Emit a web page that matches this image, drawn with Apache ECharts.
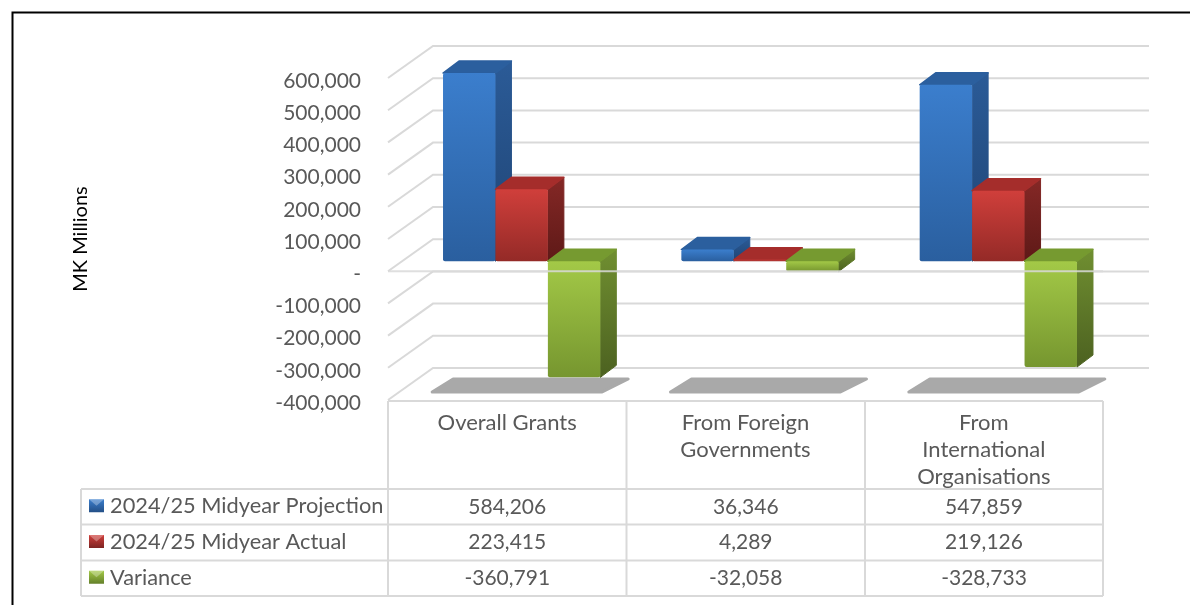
<!DOCTYPE html>
<html>
<head>
<meta charset="utf-8">
<title>Grants</title>
<style>
html,body{margin:0;padding:0;background:#fff;}
#main{width:1190px;height:605px;filter:blur(0.45px);}
</style>
</head>
<body>
<div id="main"></div>
<script src="https://cdn.jsdelivr.net/npm/echarts@6/dist/echarts.min.js"></script>
<script>
var categories = ['Overall Grants', 'From Foreign\nGovernments', 'From\nInternational\nOrganisations'];
var projection = [584206, 36346, 547859];
var actual = [223415, 4289, 219126];
var variance = [-360791, -32058, -328733];
var ticks = [-400000, -300000, -200000, -100000, 0, 100000, 200000, 300000, 400000, 500000, 600000];
var rowNames = ['2024/25 Midyear Projection', '2024/25 Midyear Actual', 'Variance'];

var FONT = 'Lato';
var TXT = '#595959';
var GRID_LINE = '#d9d9d9';
// 3d look: wall depth and bar depth in px
var WALL_DX = 45, WALL_DY = 32;
var BAR_DX = 16, BAR_DY = 12;

var colors = [
	{front: ['#3b7ecd', '#2a5f9f'], side: ['#2b5b97', '#1f4474'], top: '#2b5f9e'},
	{front: ['#d03f3b', '#942a27'], side: ['#852826', '#5e1917'], top: '#a52d2b'},
	{front: ['#a3c947', '#76962f'], side: ['#708f31', '#4c6120'], top: '#769a30'}
];

function grad(c) {
	return new echarts.graphic.LinearGradient(0, 0, 0, 1, [
		{offset: 0, color: c[0]},
		{offset: 1, color: c[1]}
	]);
}

function barItem(idx) {
	return function (params, api) {
		var cat = api.value(0);
		var p0 = api.coord([cat, 0]);
		var p1 = api.coord([cat, api.value(1)]);
		var band = api.size([1, 0])[0];
		var w = band * 0.22;
		var shiftX = (WALL_DX - BAR_DX) / 2, shiftY = (WALL_DY - BAR_DY) / 2;
		var l = p0[0] + shiftX + (idx - 1.5) * w;
		var r = l + w;
		var top = Math.min(p0[1], p1[1]) - shiftY;
		var bot = Math.max(p0[1], p1[1]) - shiftY;
		var c = colors[idx];
		return {
			type: 'group',
			children: [
				{type: 'polygon', shape: {points: [[r, top], [r + BAR_DX, top - BAR_DY], [r + BAR_DX, bot - BAR_DY], [r, bot]]},
					style: {fill: grad(c.side), stroke: grad(c.side), lineWidth: 1, lineJoin: 'round'}},
				{type: 'polygon', shape: {points: [[l, top], [l + BAR_DX, top - BAR_DY], [r + BAR_DX, top - BAR_DY], [r, top]]},
					style: {fill: c.top, stroke: c.top, lineWidth: 1.5, lineJoin: 'round'}},
				{type: 'rect', shape: {x: l, y: top, width: w, height: bot - top, r: 2}, style: {fill: grad(c.front)}}
			]
		};
	};
}

function wallItem(params, api) {
	var y = api.coord([0, api.value(1)])[1];
	var g = params.coordSys;
	return {
		type: 'polyline',
		shape: {points: [[g.x, y], [g.x + WALL_DX, y - WALL_DY], [g.x + g.width + WALL_DX + 1, y - WALL_DY]]},
		style: {stroke: GRID_LINE, lineWidth: 2, fill: null}
	};
}

function zeroItem(params, api) {
	var y = api.coord([0, 0])[1];
	var g = params.coordSys;
	return {
		type: 'line',
		shape: {x1: g.x, y1: y, x2: g.x + g.width, y2: y},
		style: {stroke: GRID_LINE, lineWidth: 2, opacity: 0.85}
	};
}

function shadowItem(params, api) {
	var cat = api.value(0);
	var c = api.coord([cat, ticks[0]]);
	var y = c[1];
	return {
		type: 'polygon',
		shape: {points: [
			[c[0] - 75, y - 8], [c[0] - 54, y - 21], [c[0] + 121, y - 21], [c[0] + 95, y - 8]
		]},
		style: {fill: '#a9a9a9', stroke: '#a9a9a9', lineWidth: 3, lineJoin: 'round'}
	};
}

// data table under the plot
var tableLeft = 81, colX = [388, 626.5, 865, 1103], rowY = [401, 489, 524.5, 560.5, 596];
var keyColors = [['#3b7ecd', '#234f86'], ['#d03f3b', '#7d2422'], ['#a3c947', '#64802a']];
var tableGraphic = [];

function hline(x1, x2, y) {
	tableGraphic.push({type: 'line', shape: {x1: x1, y1: y, x2: x2, y2: y}, style: {stroke: GRID_LINE, lineWidth: 2}, z: 10});
}
function vline(x, y1, y2) {
	tableGraphic.push({type: 'line', shape: {x1: x, y1: y1, x2: x, y2: y2}, style: {stroke: GRID_LINE, lineWidth: 2}, z: 10});
}
hline(colX[0], colX[3], rowY[0]);
for (var i = 1; i < rowY.length; i++) hline(tableLeft, colX[3], rowY[i]);
for (var j = 0; j < colX.length; j++) vline(colX[j], rowY[0], rowY[4]);
vline(tableLeft, rowY[1], rowY[4]);

[projection, actual, variance].forEach(function (vals, r) {
	var cy = (rowY[r + 1] + rowY[r + 2]) / 2;
	tableGraphic.push({
		type: 'rect', shape: {x: 89, y: cy - 7.5, width: 15, height: 13},
		style: {fill: grad(keyColors[r])}, z: 11
	});
	tableGraphic.push({
		type: 'polygon', shape: {points: [[89, cy - 7.5], [104, cy - 7.5], [96.5, cy - 1]]},
		style: {fill: 'rgba(255,255,255,0.3)'}, z: 11
	});
	tableGraphic.push({
		type: 'text', x: 110, y: cy - 0.5,
		style: {text: rowNames[r], font: '21.8px ' + FONT, fill: TXT, textAlign: 'left', textVerticalAlign: 'middle'}, z: 11
	});
	vals.forEach(function (v, c) {
		tableGraphic.push({
			type: 'text', x: (colX[c] + colX[c + 1]) / 2, y: cy,
			style: {text: v.toLocaleString('en-US'), font: '21px ' + FONT, fill: TXT, textAlign: 'center', textVerticalAlign: 'middle'}, z: 11
		});
	});
});

// black frame, only top and left are in the crop
tableGraphic.push({type: 'polyline', shape: {points: [[12.5, 605], [12.5, 12.5], [1190, 12.5]]}, style: {stroke: '#000', lineWidth: 2, fill: null}, z: 12});

var myChart = echarts.init(document.getElementById('main'));
myChart.setOption({
	backgroundColor: '#fff',
	animation: false,
	textStyle: {fontFamily: FONT},
	grid: {left: 388, right: 87, top: 78, bottom: 205},
	xAxis: {
		type: 'category',
		data: categories,
		axisLine: {show: false, onZero: false},
		axisTick: {show: false},
		splitLine: {show: false},
		axisLabel: {
			color: TXT,
			fontFamily: FONT,
			fontSize: 22,
			lineHeight: 27,
			margin: 9,
			interval: 0
		}
	},
	yAxis: {
		type: 'value',
		min: -400000,
		max: 600000,
		interval: 100000,
		name: 'MK Millions',
		nameLocation: 'middle',
		nameGap: 297,
		nameTextStyle: {color: '#000', fontFamily: FONT, fontSize: 20},
		axisLine: {show: false},
		axisTick: {show: false},
		splitLine: {show: false},
		axisLabel: {
			margin: 27,
			formatter: function (v) {
				return '{v|' + (v === 0 ? '-' : v.toLocaleString('en-US')) + '}';
			},
			rich: {
				v: {color: TXT, fontFamily: FONT, fontSize: 21, padding: [6, 0, 0, 0]}
			}
		}
	},
	graphic: {elements: tableGraphic},
	series: [
		{type: 'custom', name: 'walls', z: 1, silent: true, renderItem: wallItem, clip: false, encode: {x: 0, y: 1},
			data: ticks.map(function (t) { return [0, t]; })},
		{type: 'custom', name: 'shadows', z: 2, silent: true, renderItem: shadowItem, clip: false, encode: {x: 0, y: 1},
			data: categories.map(function (c, i) { return [i, ticks[0]]; })},
		{type: 'custom', name: rowNames[0], z: 3, renderItem: barItem(0), clip: false, encode: {x: 0, y: 1},
			data: projection.map(function (v, i) { return [i, v]; })},
		{type: 'custom', name: rowNames[1], z: 4, renderItem: barItem(1), clip: false, encode: {x: 0, y: 1},
			data: actual.map(function (v, i) { return [i, v]; })},
		{type: 'custom', name: rowNames[2], z: 5, renderItem: barItem(2), clip: false, encode: {x: 0, y: 1},
			data: variance.map(function (v, i) { return [i, v]; })},
		{type: 'custom', name: 'zero', z: 6, silent: true, renderItem: zeroItem, clip: false, encode: {x: 0, y: 1},
			data: [[0, 0]]}
	]
});
</script>
</body>
</html>
